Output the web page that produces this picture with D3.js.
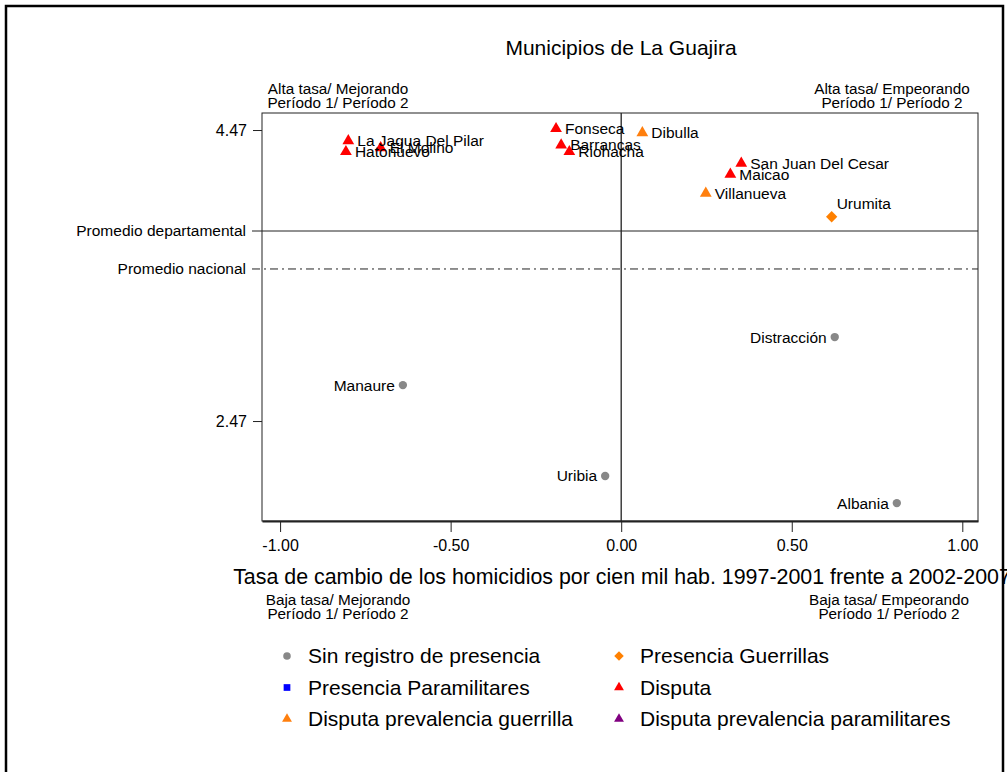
<!DOCTYPE html>
<html lang="es">
<head>
<meta charset="UTF-8">
<title>Municipios de La Guajira</title>
<script src="https://d3js.org/d3.v7.min.js"></script>
<style>
  body { margin: 0; background: #fff; }
  text { font-family: "Liberation Sans", Arial, sans-serif; fill: #000; }
  .axis path, .axis line { stroke: #222; }
</style>
</head>
<body>
<script>
// municipios, valores x (tasa de cambio) e y (tasa), grupo
var names  = ["Fonseca", "Dibulla", "La Jagua Del Pilar", "El Molino", "Hatonuevo", "Barrancas", "Riohacha",
              "San Juan Del Cesar", "Maicao", "Villanueva", "Urumita", "Distracción", "Manaure", "Uribia", "Albania"];
var xVals  = [-0.191, 0.062, -0.800, -0.705, -0.807, -0.176, -0.152, 0.352, 0.320, 0.248, 0.617, 0.626, -0.640, -0.047, 0.808];
var yVals  = [4.479, 4.451, 4.396, 4.348, 4.321, 4.367, 4.321, 4.241, 4.166, 4.035, 3.874, 3.047, 2.717, 2.092, 1.906];
var groups = [3, 4, 3, 3, 3, 3, 3, 3, 3, 4, 1, 0, 0, 0, 0];

// leyenda
var legendLabels = ["Sin registro de presencia", "Presencia Guerrillas", "Presencia Paramilitares", "Disputa",
                    "Disputa prevalencia guerrilla", "Disputa prevalencia paramilitares"];
var legendGroups = [0, 1, 2, 3, 4, 5];
var groupColors  = ["#888888", "#ff8000", "#0000ff", "#ff0000", "#ff7f0e", "#800080"];
var groupShapes  = ["circle", "diamond", "square", "triangle", "triangle", "triangle"];

var xTicks = [-1.00, -0.50, 0.00, 0.50, 1.00];
var yTicks = [2.47, 4.47];
var refLabels = ["Promedio departamental", "Promedio nacional"];
var refValues = [3.776, 3.515];

var w = 1007, h = 772;
var plotL = 262, plotR = 978, plotT = 113, plotB = 521;

var svg = d3.select("body").append("svg")
  .attr("width", w).attr("height", h);

// outer border
svg.append("path")
  .attr("d", "M6,790 L6,6 L1003,6 L1003,790")
  .attr("fill", "none").attr("stroke", "#000").attr("stroke-width", 2.5);

var xScale = d3.scaleLinear().domain([-1.053, 1.046]).range([plotL, plotR]);
var yScale = d3.scaleLinear().domain([1.783, 4.587]).range([plotB, plotT]);

// plot frame
svg.append("rect")
  .attr("x", plotL).attr("y", plotT)
  .attr("width", plotR - plotL).attr("height", plotB - plotT)
  .attr("fill", "none").attr("stroke", "#222").attr("stroke-width", 1);

// quadrant line at x = 0
svg.append("line")
  .attr("x1", xScale(0)).attr("x2", xScale(0))
  .attr("y1", plotT).attr("y2", plotB)
  .attr("stroke", "#222").attr("stroke-width", 1.3);

// reference lines (promedios)
refValues.forEach(function(v, i) {
  svg.append("line")
    .attr("x1", plotL - 10).attr("x2", plotR)
    .attr("y1", yScale(v)).attr("y2", yScale(v))
    .attr("stroke", "#222").attr("stroke-width", 1)
    .attr("stroke-dasharray", i === 1 ? "8,4,2,4" : null);
  svg.append("text")
    .attr("x", plotL - 16).attr("y", yScale(v)).attr("dy", "0.35em")
    .attr("text-anchor", "end").attr("font-size", "15.5px")
    .text(refLabels[i]);
});

// axes
var xAxis = d3.axisBottom(xScale).tickValues(xTicks)
  .tickFormat(function(d) { return d3.format(".2f")(d).replace("−", "-"); })
  .tickSize(11).tickSizeOuter(0).tickPadding(8);
var gx = svg.append("g").attr("class", "axis")
  .attr("transform", "translate(0," + plotB + ")")
  .call(xAxis);
gx.select(".domain").attr("stroke-width", 1.8).attr("stroke", "#444");
gx.selectAll("text").attr("font-size", "16px").attr("font-family", "Liberation Sans, Arial");

var yAxis = d3.axisLeft(yScale).tickValues(yTicks).tickFormat(d3.format(".2f"))
  .tickSize(9).tickSizeOuter(0).tickPadding(6);
var gy = svg.append("g").attr("class", "axis")
  .attr("transform", "translate(" + plotL + ",0)")
  .call(yAxis);
gy.select(".domain").remove();
gy.selectAll("text").attr("font-size", "16px").attr("font-family", "Liberation Sans, Arial");

// title
svg.append("text")
  .attr("x", 621).attr("y", 55)
  .attr("text-anchor", "middle").attr("font-size", "21px")
  .text("Municipios de La Guajira");

// x axis label
svg.append("text")
  .attr("x", 622).attr("y", 584)
  .attr("text-anchor", "middle").attr("font-size", "21.4px")
  .text("Tasa de cambio de los homicidios por cien mil hab. 1997-2001 frente a 2002-2007");

// quadrant annotations
var cornerText = [["Alta tasa/ Mejorando", "Período 1/ Período 2"], ["Alta tasa/ Empeorando", "Período 1/ Período 2"],
                  ["Baja tasa/ Mejorando", "Período 1/ Período 2"], ["Baja tasa/ Empeorando", "Período 1/ Período 2"]];
var cornerPos = [[338, 93.5], [892, 93.5], [338, 604.5], [889, 604.5]];
cornerText.forEach(function(lines, k) {
  lines.forEach(function(t, i) {
    svg.append("text")
      .attr("x", cornerPos[k][0]).attr("y", cornerPos[k][1] + i * 14.5)
      .attr("text-anchor", "middle").attr("font-size", "15.3px")
      .text(t);
  });
});

function symbolPath(shape, size) {
  if (shape === "circle") return d3.symbol(d3.symbolCircle, size)();
  if (shape === "triangle") return d3.symbol(d3.symbolTriangle, size)();
  return d3.symbol(d3.symbolSquare, size)();
}
function symbolRotate(shape) { return shape === "diamond" ? " rotate(45)" : ""; }

// points
var points = names.map(function(n, i) {
  return { name: n, x: xVals[i], y: yVals[i], g: groups[i] };
});

svg.selectAll("path.pt")
  .data(points)
  .enter()
  .append("path")
  .attr("class", "pt")
  .attr("d", function(d) {
    var s = groupShapes[d.g];
    return symbolPath(s, s === "triangle" ? 60 : (s === "circle" ? 55 : 64));
  })
  .attr("transform", function(d) {
    return "translate(" + xScale(d.x) + "," + yScale(d.y) + ")" + symbolRotate(groupShapes[d.g]);
  })
  .attr("fill", function(d) { return groupColors[d.g]; });

svg.selectAll("text.lbl")
  .data(points)
  .enter()
  .append("text")
  .attr("class", "lbl")
  .attr("font-size", "15.5px")
  .attr("x", function(d) {
    var s = groupShapes[d.g];
    if (s === "circle") return xScale(d.x) - 8;
    if (s === "diamond") return xScale(d.x) + 5;
    return xScale(d.x) + 9;
  })
  .attr("y", function(d) {
    return yScale(d.y) + (groupShapes[d.g] === "diamond" ? -13 : 0);
  })
  .attr("dy", "0.35em")
  .attr("text-anchor", function(d) { return groupShapes[d.g] === "circle" ? "end" : "start"; })
  .text(function(d) { return d.name; });

// legend
var legend = svg.selectAll("g.leg")
  .data(legendGroups)
  .enter()
  .append("g")
  .attr("class", "leg")
  .attr("transform", function(d, i) {
    return "translate(" + (i % 2 === 0 ? 287 : 619) + "," + (656 + Math.floor(i / 2) * 31.5) + ")";
  });
legend.append("path")
  .attr("d", function(d) {
    var s = groupShapes[d];
    return symbolPath(s, s === "triangle" ? 42 : 45);
  })
  .attr("transform", function(d) { return symbolRotate(groupShapes[d]).trim() || null; })
  .attr("fill", function(d) { return groupColors[d]; });
legend.append("text")
  .attr("x", 21).attr("dy", "0.35em")
  .attr("font-size", "21px")
  .text(function(d, i) { return legendLabels[i]; });
</script>
</body>
</html>
